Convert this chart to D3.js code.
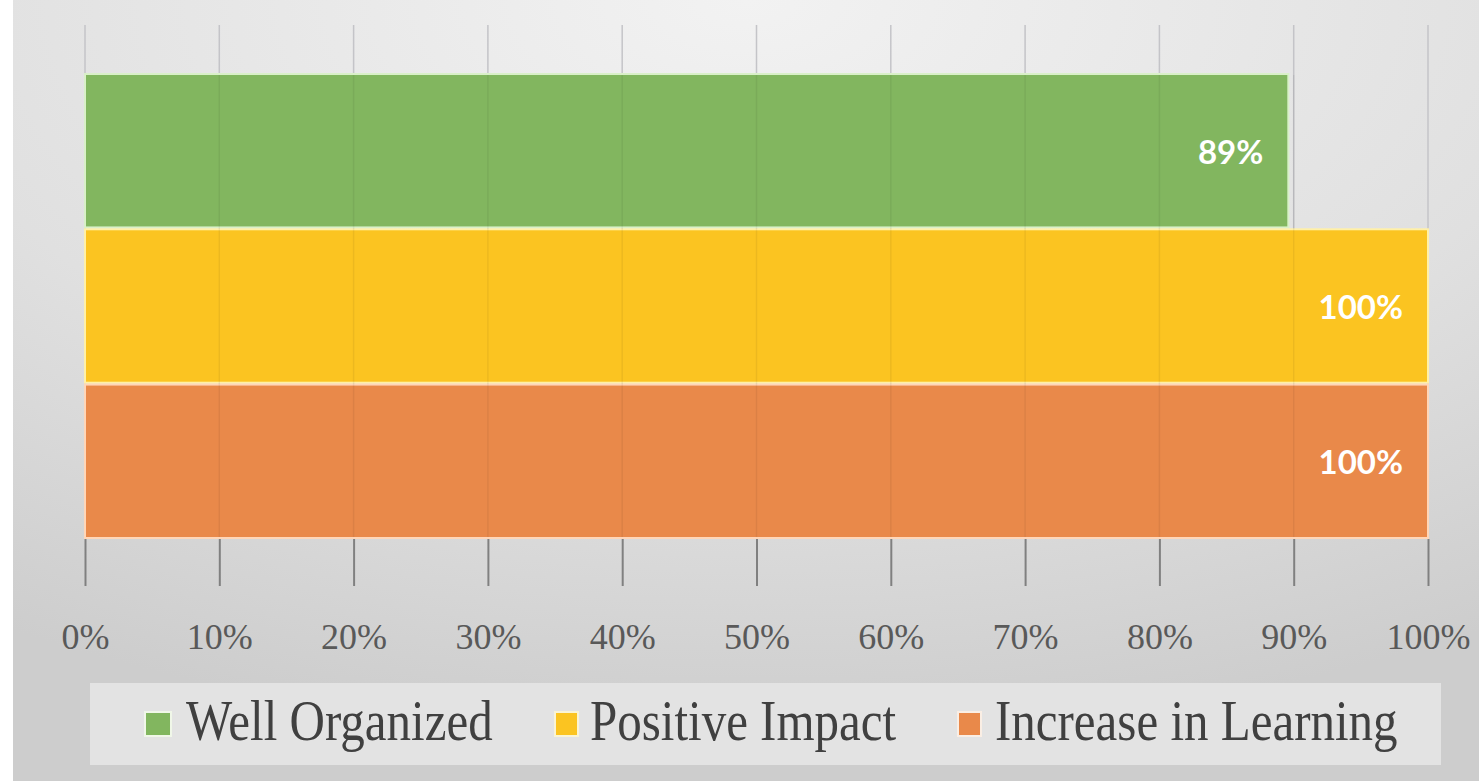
<!DOCTYPE html>
<html><head><meta charset="utf-8">
<script src="https://cdn.jsdelivr.net/npm/d3@7/dist/d3.min.js"></script>
</head><body style="margin:0">
<svg id="c" width="1479" height="781" font-family="Liberation Serif"></svg>
<script>
const categories = ["Well Organized", "Positive Impact", "Increase in Learning"];
const values = [0.896, 1.0, 1.0];
const valueLabels = ["89%", "100%", "100%"];
const colors = ["#82b65f", "#fbc421", "#e9894a"];
const borderColors = ["#d9f0c8", "#fff0a8", "#ffd6b8"];
const glowColors = ["#f2fbe8", "#fff8d0", "#fff0e4"];
const tickValues = [0, 0.1, 0.2, 0.3, 0.4, 0.5, 0.6, 0.7, 0.8, 0.9, 1.0];

const svg = d3.select("#c");
const defs = svg.append("defs");
const g1 = defs.append("radialGradient").attr("id","bg").attr("cx","50%").attr("cy","0%").attr("r","95%");
g1.append("stop").attr("offset","0%").attr("stop-color","#f2f2f2");
g1.append("stop").attr("offset","60%").attr("stop-color","#e0e0e0");
g1.append("stop").attr("offset","100%").attr("stop-color","#cdcdcd");

svg.append("rect").attr("x",13).attr("y",0).attr("width",1466).attr("height",781).attr("fill","url(#bg)");

const x = d3.scaleLinear().domain([0,1]).range([85,1428]);
const y = d3.scaleBand().domain(categories).range([74,538]).paddingInner(0.012);

// gridlines
svg.append("g").selectAll("line").data(tickValues).join("line")
  .attr("x1",d=>x(d)).attr("x2",d=>x(d)).attr("y1",25).attr("y2",538)
  .attr("stroke","#c4c4c8").attr("stroke-width",1.5);

// bars
svg.append("g").selectAll("rect").data(categories).join("rect")
  .attr("x",x(0)).attr("y",d=>y(d)).attr("width",(d,i)=>x(values[i])-x(0)).attr("height",y.bandwidth())
  .attr("fill",(d,i)=>colors[i]).attr("stroke",(d,i)=>borderColors[i]).attr("stroke-width",2);

// faint grid over bars
svg.append("g").selectAll("line").data(tickValues.slice(1,-1)).join("line")
  .attr("x1",d=>x(d)).attr("x2",d=>x(d)).attr("y1",75).attr("y2",537)
  .attr("stroke","#000").attr("stroke-opacity",0.06).attr("stroke-width",1.5);

// axis ticks below bars
const axis = d3.axisBottom(x).tickValues(tickValues).tickSize(47).tickFormat(d3.format(".0%")).tickPadding(16);
const ax = svg.append("g").attr("transform","translate(0,539)").call(axis);
ax.attr("font-family","Liberation Serif").attr("font-size",36);
ax.select(".domain").remove();
ax.selectAll(".tick line").attr("stroke","#808080").attr("stroke-width",2);
ax.selectAll(".tick text").attr("font-family","Liberation Serif").attr("font-size",36)
  .attr("fill","#595959").attr("dy",null).attr("y",110);

// value labels
svg.append("g").selectAll("text").data(categories).join("text")
  .attr("x",(d,i)=>x(values[i])-25).attr("y",d=>y(d)+y.bandwidth()/2+13)
  .attr("text-anchor","end").attr("font-family","Lato").attr("font-weight","bold")
  .attr("font-size",33).attr("fill","#ffffff").text((d,i)=>valueLabels[i]);

// legend
svg.append("rect").attr("x",90).attr("y",683).attr("width",1351).attr("height",82).attr("fill","#e6e6e6").attr("fill-opacity",0.85);
const legX = [146, 556, 959];
const lg = svg.append("g").selectAll("g").data(categories).join("g")
  .attr("transform",(d,i)=>`translate(${legX[i]},713)`);
lg.append("rect").attr("x",-2).attr("y",-2).attr("width",(d,i)=>(i===0?24:21)+4).attr("height",26)
  .attr("fill",(d,i)=>glowColors[i]).attr("opacity",0.8);
lg.append("rect").attr("width",(d,i)=>i===0?24:21).attr("height",22).attr("fill",(d,i)=>colors[i]);
lg.append("text").attr("transform",(d,i)=>`translate(${i===0?40:i===1?34:36},27) scale(1,1.18)`)
  .attr("font-family","Liberation Serif").attr("font-size",49).attr("fill","#404040").text(d=>d);
</script>
</body></html>
